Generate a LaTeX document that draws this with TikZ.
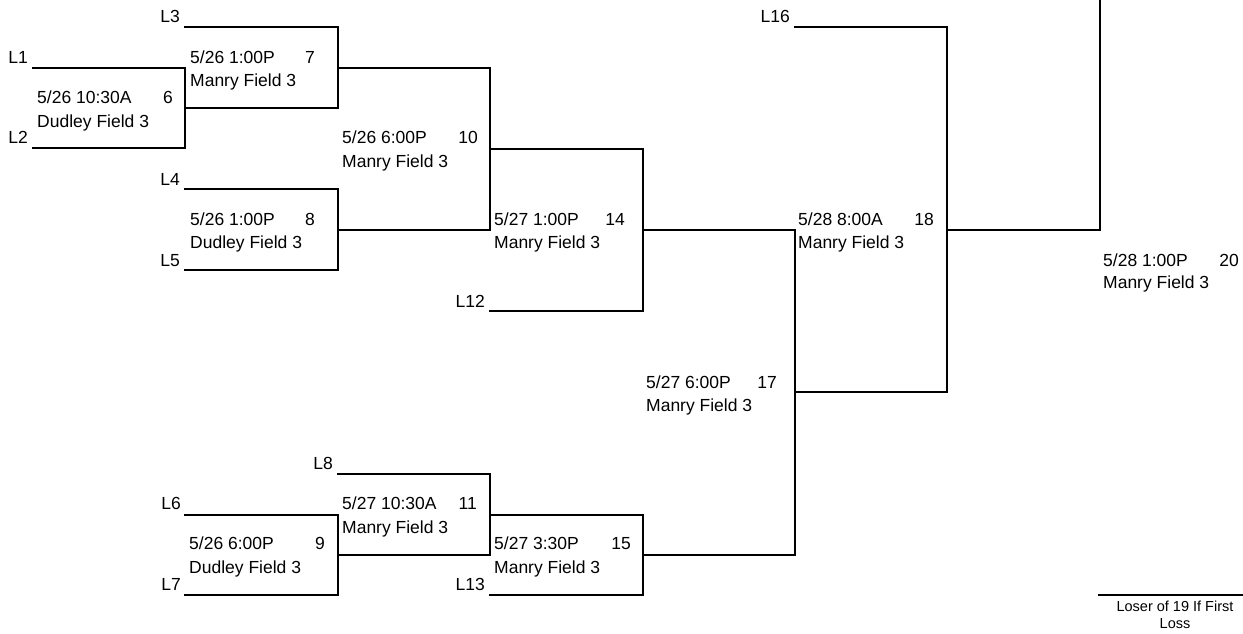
\documentclass[tikz,border=0pt]{standalone}
\usepackage{fontspec}
\setmainfont{Liberation Sans}
\begin{document}
\begin{tikzpicture}[x=1pt,y=-1pt,
  txt/.style={inner sep=0pt,font=\fontsize{17.5}{21}\selectfont},
  lab/.style={txt,anchor=base east},
  dt/.style={txt,anchor=base west},
  num/.style={txt,anchor=base east},
  small/.style={inner sep=0pt,font=\fontsize{14.5}{17}\selectfont,anchor=base,align=center},
  br/.style={line width=1.3pt,line cap=rect}]
\useasboundingbox (0,0) rectangle (1243,633);
\newcommand\gametext[6]{%
  \node[dt] (d#1) at (#2,#3) {#4};
  \node[num] (n#1) at (#5,#3) {#1};
  \node[dt] (f#1) at (#2,#6) {Manry Field 3};}
\newcommand\gametextD[6]{%
  \node[dt] (d#1) at (#2,#3) {#4};
  \node[num] (n#1) at (#5,#3) {#1};
  \node[dt] (f#1) at (#2,#6) {Dudley Field 3};}
% coordinates
\coordinate (a1) at (33,68);   \coordinate (b1) at (185,68);
\coordinate (a2) at (33,148);  \coordinate (b2) at (185,148);
\coordinate (a3) at (185,27);  \coordinate (b3) at (338,27);
\coordinate (o6) at (185,108); \coordinate (o6e) at (338,108);
\coordinate (a4) at (185,189); \coordinate (b4) at (338,189);
\coordinate (a5) at (185,270); \coordinate (b5) at (338,270);
\coordinate (o7) at (338,68);  \coordinate (o7e) at (490,68);
\coordinate (o8) at (338,230); \coordinate (o8e) at (490,230);
\coordinate (o10) at (490,149);\coordinate (o10e) at (643,149);
\coordinate (a12) at (490,311);\coordinate (b12) at (643,311);
\coordinate (o14) at (643,230);\coordinate (o14e) at (795,230);
\coordinate (a16) at (795,27); \coordinate (b16) at (947,27);
\coordinate (o17) at (795,392);\coordinate (o17e) at (947,392);
\coordinate (o18) at (947,230);\coordinate (o18e) at (1100,230);
\coordinate (top) at (1100,0);
\coordinate (a6) at (185,515); \coordinate (b6) at (338,515);
\coordinate (a7) at (185,595); \coordinate (b7) at (338,595);
\coordinate (a8) at (338,474); \coordinate (b8) at (490,474);
\coordinate (o9) at (338,555); \coordinate (o9e) at (490,555);
\coordinate (o11) at (490,515);\coordinate (o11e) at (643,515);
\coordinate (a13) at (490,595);\coordinate (b13) at (643,595);
\coordinate (o15) at (643,555);\coordinate (o15e) at (795,555);
\coordinate (la) at (1099,595);\coordinate (lb) at (1243,595);
% brackets
\draw[br] (a1) -- (b1) -- (b2) -- (a2);
\draw[br] (a3) -- (b3) -- (o6e) -- (o6);
\draw[br] (a4) -- (b4) -- (b5) -- (a5);
\draw[br] (o7) -- (o7e) -- (o8e) -- (o8);
\draw[br] (o10) -- (o10e) -- (b12) -- (a12);
\draw[br] (o14) -- (o14e) -- (o15e) -- (o15);
\draw[br] (a16) -- (b16) -- (o17e) -- (o17);
\draw[br] (o18) -- (o18e) -- (top);
\draw[br] (a6) -- (b6) -- (b7) -- (a7);
\draw[br] (a8) -- (b8) -- (o9e) -- (o9);
\draw[br] (o11) -- (o11e) -- (b13) -- (a13);
\draw[br] (la) -- (lb);
% seed labels
\node[lab] (L1) at (28,63) {L1};
\node[lab] (L2) at (28,143) {L2};
\node[lab] (L3) at (180,22) {L3};
\node[lab] (L4) at (180,185) {L4};
\node[lab] (L5) at (180,266) {L5};
\node[lab] (L12) at (485,307) {L12};
\node[lab] (L16) at (790,22) {L16};
\node[lab] (L6) at (181,509) {L6};
\node[lab] (L7) at (181,590) {L7};
\node[lab] (L8) at (333,469) {L8};
\node[lab] (L13) at (485,590) {L13};
% game texts
\gametextD{6}{37}{103}{5/26 10:30A}{173}{127}
\gametext{7}{190}{63}{5/26 1:00P}{315}{86}
\gametextD{8}{190}{225}{5/26 1:00P}{315}{248}
\gametext{10}{342}{143}{5/26 6:00P}{478}{167}
\gametext{14}{494}{225}{5/27 1:00P}{625}{248}
\gametext{18}{798}{225}{5/28 8:00A}{934}{248}
\gametext{20}{1103}{266}{5/28 1:00P}{1239}{288}
\gametext{17}{646}{388}{5/27 6:00P}{777}{411}
\gametextD{9}{189}{549}{5/26 6:00P}{325}{573}
\gametext{11}{342}{509}{5/27 10:30A}{477}{533}
\gametext{15}{494}{549}{5/27 3:30P}{631}{573}
\node[small] (lo1) at (1175,611) {Loser of 19 If First};
\node[small] (lo2) at (1175,628) {Loss};
\end{tikzpicture}
\end{document}
